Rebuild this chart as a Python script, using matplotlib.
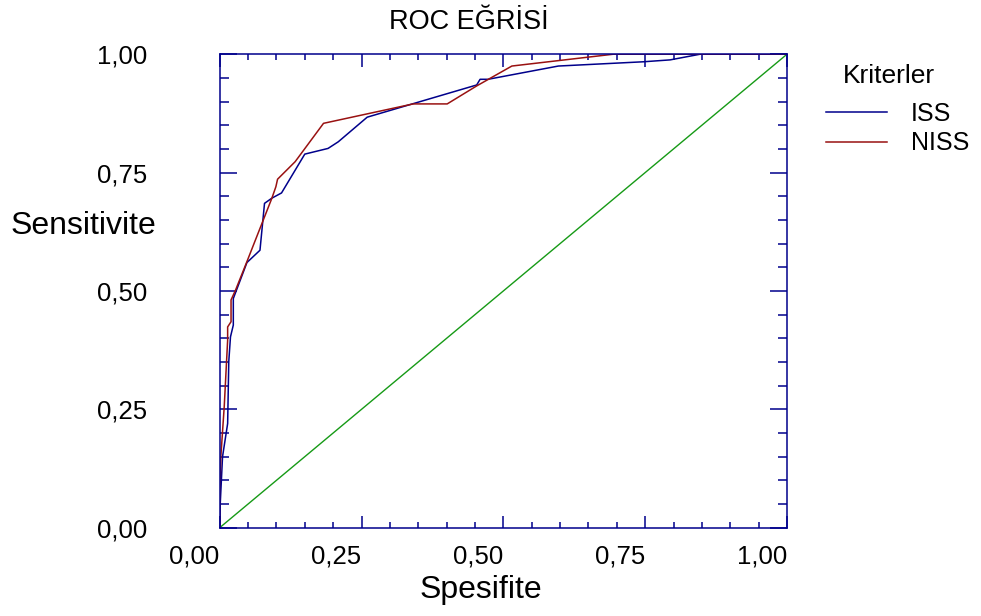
import matplotlib
matplotlib.use('Agg')
import matplotlib.pyplot as plt
from matplotlib.ticker import MultipleLocator, FixedLocator

plt.rcParams['font.family'] = ['Liberation Sans', 'DejaVu Sans']

# ROC points (x = 1 - Spesifite, y = Sensitivite)
iss_x = [0.0, 0.001, 0.005, 0.014, 0.016, 0.019, 0.024, 0.024, 0.048, 0.071,
         0.079, 0.092, 0.109, 0.150, 0.191, 0.209, 0.260, 0.453, 0.459, 0.473,
         0.597, 0.747, 0.794, 0.847, 1.0]
iss_y = [0.0, 0.052, 0.150, 0.220, 0.351, 0.403, 0.428, 0.484, 0.560, 0.586,
         0.685, 0.696, 0.707, 0.789, 0.801, 0.815, 0.867, 0.935, 0.947, 0.947,
         0.975, 0.984, 0.988, 1.0, 1.0]

niss_x = [0.0, 0.0, 0.002, 0.008, 0.014, 0.014, 0.020, 0.020, 0.028, 0.048,
          0.092, 0.099, 0.102, 0.133, 0.183, 0.341, 0.401, 0.453, 0.515, 0.694,
          1.0]
niss_y = [0.0, 0.052, 0.150, 0.256, 0.396, 0.424, 0.435, 0.481, 0.502, 0.562,
          0.696, 0.720, 0.736, 0.773, 0.854, 0.895, 0.895, 0.933, 0.975, 1.0,
          1.0]

ref_x = [0.0, 1.0]
ref_y = [0.0, 1.0]

tick_vals = [0.0, 0.25, 0.5, 0.75, 1.0]
tick_labels = ['0,00', '0,25', '0,50', '0,75', '1,00']

navy = '#00008B'
dark_red = '#991111'
green = '#169a16'

fig = plt.figure(figsize=(9.81, 6.16), dpi=100)
ax = fig.add_axes([219.7 / 981, (616 - 527.7) / 616, 567.3 / 981, 473.5 / 616])

ax.plot(ref_x, ref_y, color=green, lw=1)
ln_iss, = ax.plot(iss_x, iss_y, color=navy, lw=1.1)
ln_niss, = ax.plot(niss_x, niss_y, color=dark_red, lw=1.1)

ax.set_xlim(0, 1)
ax.set_ylim(0, 1)

for sp in ax.spines.values():
    sp.set_color(navy)
    sp.set_linewidth(1.1)

ax.xaxis.set_major_locator(FixedLocator(tick_vals))
ax.yaxis.set_major_locator(FixedLocator(tick_vals))
ax.xaxis.set_minor_locator(MultipleLocator(0.05))
ax.yaxis.set_minor_locator(MultipleLocator(0.05))
ax.set_xticklabels(tick_labels)
ax.set_yticklabels(tick_labels)

ax.tick_params(axis='both', which='both', direction='in', color=navy,
               width=1.1, top=True, right=True, labelsize=18.5)
ax.tick_params(axis='x', which='major', length=9, pad=12)
ax.tick_params(axis='x', which='minor', length=4.5)
ax.tick_params(axis='y', which='major', length=12.5, pad=52)
ax.tick_params(axis='y', which='minor', length=6.5)
for lbl in ax.get_xticklabels():
    lbl.set_ha('right')

fig.text(469 / 981, 1 - 22 / 616, 'ROC EĞRİSİ', ha='center', va='center', fontsize=19.5)
fig.text(481 / 981, 1 - 590 / 616, 'Spesifite', ha='center', va='center', fontsize=23)
fig.text(83 / 981, 1 - 226 / 616, 'Sensitivite', ha='center', va='center', fontsize=23)
fig.text(889 / 981, 1 - 76 / 616, 'Kriterler', ha='center', va='center', fontsize=19)

ax.legend([ln_iss, ln_niss], ['ISS', 'NISS'], frameon=False, loc='upper left',
          bbox_to_anchor=(826 / 981, 1 - 102 / 616), bbox_transform=fig.transFigure,
          borderpad=0, borderaxespad=0, handlelength=2.45, handletextpad=0.95,
          labelspacing=0.22, fontsize=18)

fig.savefig('out.png', dpi=100)
